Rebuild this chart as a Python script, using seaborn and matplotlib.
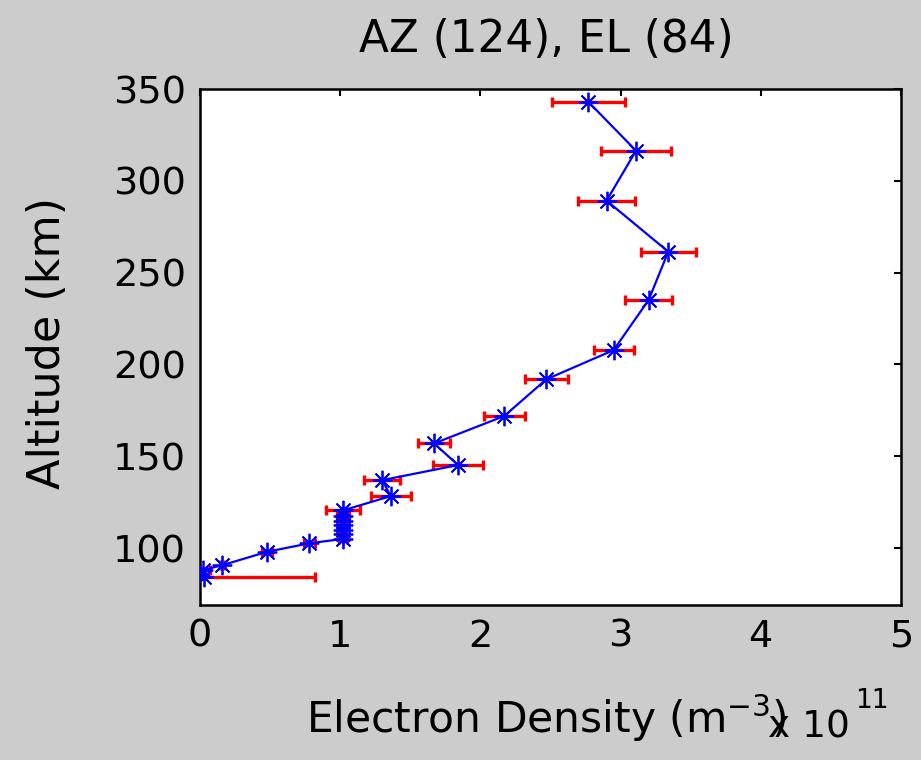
import matplotlib
matplotlib.use("Agg")
import matplotlib.pyplot as plt
import seaborn as sns
import numpy as np
import pandas as pd

# Data (density in units of 1e11 m^-3, altitude in km)
altitude = [343.0, 316.4, 289.2, 261.4, 235.1, 207.8, 191.9, 171.9, 157.0, 145.2,
            137.0, 128.3, 120.5, 117.5, 115.0, 112.5, 110.0, 107.5, 105.0, 102.6,
            98.0, 90.7, 88.0, 84.4]
density = [2.77, 3.11, 2.90, 3.34, 3.20, 2.95, 2.47, 2.17, 1.67, 1.84,
           1.30, 1.36, 1.02, 1.02, 1.02, 1.02, 1.02, 1.02, 1.02, 0.78,
           0.48, 0.16, 0.02, 0.03]
density_err = [0.26, 0.25, 0.205, 0.195, 0.17, 0.143, 0.155, 0.145, 0.115, 0.175,
               0.13, 0.143, 0.12, 0.04, 0.035, 0.03, 0.03, 0.03, 0.03, 0.04,
               0.036, 0.018, 0.05, 0.79]
x_ticks = [0, 1, 2, 3, 4, 5]
y_ticks = [100, 150, 200, 250, 300, 350]
title = "AZ (124), EL (84)"
xlabel = "Electron Density (m$^{-3}$)"
ylabel = "Altitude (km)"

df = pd.DataFrame({"density": density, "altitude": altitude, "err": density_err})

sns.set_style("white")
plt.rcParams["font.family"] = ["DejaVu Sans"]
plt.rcParams["mathtext.fontset"] = "custom"
plt.rcParams["mathtext.rm"] = "DejaVu Sans"
plt.rcParams["mathtext.default"] = "regular"
plt.rcParams["text.color"] = "black"

fig = plt.figure(figsize=(9.21, 7.6), dpi=100, facecolor="#cccccc")
ax = fig.add_axes([200 / 921, 1 - 605 / 760, 701 / 921, (605 - 89) / 760])
ax.set_facecolor("white")

# error bars (red)
ax.errorbar(df["density"], df["altitude"], xerr=df["err"], fmt="none",
            ecolor="#ff0000", elinewidth=2.4, capsize=3.5, capthick=2.4, zorder=2)

# profile line with asterisk markers (blue)
sns.lineplot(data=df, x="density", y="altitude", sort=False, orient="y",
             color="#0000ff", linewidth=1.6, marker=(8, 2, 0), markersize=14,
             markeredgewidth=1.3, markeredgecolor="#0000ff", ax=ax, zorder=3)

ax.set_xlim(0, 5)
ax.set_ylim(69, 350)
ax.set_xticks(x_ticks)
ax.set_yticks(y_ticks)
ax.set_xticklabels([str(v) for v in x_ticks])
ax.set_yticklabels([str(v) for v in y_ticks])
ax.tick_params(direction="in", length=5, width=1.5, top=True, right=True,
               labelsize=27.5, colors="black", labelcolor="black", pad=10)
for s in ax.spines.values():
    s.set_visible(True)
    s.set_color("black")
    s.set_linewidth(1.8)

ax.set_xlabel("")
ax.set_ylabel("")
fig.text(546 / 921, 1 - 40 / 760, title, ha="center", va="center", fontsize=31.5, color="black")
fig.text(47 / 921, 1 - 343 / 760, ylabel, ha="center", va="center",
         rotation=90, fontsize=32, color="black")
fig.text(546 / 921, 1 - 718 / 760, xlabel, ha="center", va="center", fontsize=30.5, color="black")
fig.text(768 / 921, 1 - 738 / 760, "x 10", ha="left", va="baseline", fontsize=27, color="black")
fig.text(855 / 921, 1 - 708 / 760, "11", ha="left", va="baseline", fontsize=19, color="black")

fig.savefig("out.png", dpi=100, facecolor=fig.get_facecolor())
